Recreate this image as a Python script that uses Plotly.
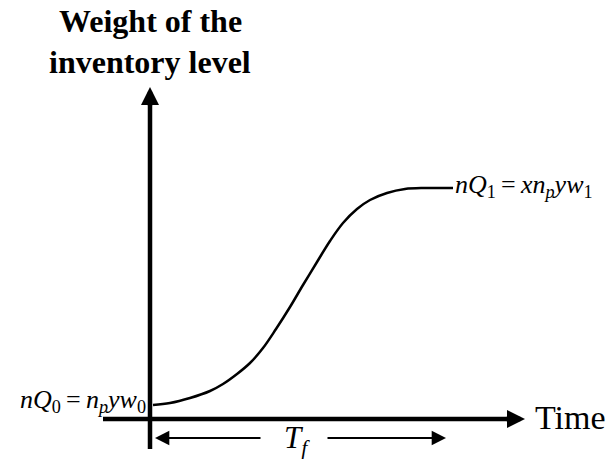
import plotly.graph_objects as go

# S-shaped growth of the inventory weight over the filling period (schematic units)
time_pts = [3, 20, 40, 60, 73, 87, 100, 113, 126, 140, 153, 167, 180, 193, 207, 220, 237, 255, 275, 303]
weight_pts = [14, 16, 21, 28, 35, 45, 56, 71, 90, 112, 134, 157, 178, 196, 210, 219, 226, 230, 231, 231]

# Axis extents and the filling-period marker
x_axis_span = [-47, 357]
x_axis_tip = 375
y_axis_span = [-30, 314]
y_axis_tip = 332
tf_span = [5, 296]
tf_gap = [112, 176]
tf_level = -19

serif = "Liberation Serif"
ink = "black"

fig = go.Figure()

# axes shafts
fig.add_trace(go.Scatter(x=x_axis_span, y=[0, 0], mode="lines",
                         line=dict(color=ink, width=4.5), hoverinfo="skip"))
fig.add_trace(go.Scatter(x=[0, 0], y=y_axis_span, mode="lines",
                         line=dict(color=ink, width=4.5), hoverinfo="skip"))

# arrowheads
fig.add_annotation(x=x_axis_tip, y=0, ax=x_axis_span[1] - 2, ay=0,
                   xref="x", yref="y", axref="x", ayref="y", text="",
                   showarrow=True, arrowhead=2, arrowsize=0.8, arrowwidth=4.5,
                   arrowcolor=ink)
fig.add_annotation(x=0, y=y_axis_tip, ax=0, ay=y_axis_span[1] - 2,
                   xref="x", yref="y", axref="x", ayref="y", text="",
                   showarrow=True, arrowhead=2, arrowsize=0.8, arrowwidth=4.5,
                   arrowcolor=ink)

# inventory curve
fig.add_trace(go.Scatter(x=time_pts, y=weight_pts, mode="lines",
                         line=dict(color=ink, width=2.5, shape="spline", smoothing=1.0),
                         hoverinfo="skip"))

# T_f double arrow, split around its label
fig.add_annotation(x=tf_span[0], y=tf_level, ax=tf_gap[0], ay=tf_level,
                   xref="x", yref="y", axref="x", ayref="y", text="",
                   showarrow=True, arrowhead=2, arrowsize=1.3, arrowwidth=2.2,
                   arrowcolor=ink)
fig.add_annotation(x=tf_span[1], y=tf_level, ax=tf_gap[1], ay=tf_level,
                   xref="x", yref="y", axref="x", ayref="y", text="",
                   showarrow=True, arrowhead=2, arrowsize=1.3, arrowwidth=2.2,
                   arrowcolor=ink)
fig.add_annotation(x=(tf_gap[0] + tf_gap[1]) / 2 + 3, y=tf_level,
                   text="<i>T</i><sub><i>f</i></sub>", showarrow=False,
                   font=dict(family=serif, size=31, color=ink), yshift=-2)

# labels
fig.add_annotation(x=0, y=398, text="<b>Weight of the</b>", showarrow=False,
                   font=dict(family=serif, size=32, color=ink))
fig.add_annotation(x=0, y=357, text="<b>inventory level</b>", showarrow=False,
                   font=dict(family=serif, size=32, color=ink))
fig.add_annotation(x=x_axis_tip + 8, y=2, text="Time", showarrow=False,
                   xanchor="left", font=dict(family=serif, size=34, color=ink))
fig.add_annotation(x=time_pts[-1], y=weight_pts[-1],
                   text="<i>nQ</i><sub>1</sub>&#8201;=&#8201;<i>xn</i><sub><i>p</i></sub><i>yw</i><sub>1</sub>",
                   showarrow=False, xanchor="left", yshift=2,
                   font=dict(family=serif, size=26, color=ink))
fig.add_annotation(x=-2, y=weight_pts[0],
                   text="<i>nQ</i><sub>0</sub>&#8201;=&#8201;<i>n</i><sub><i>p</i></sub><i>yw</i><sub>0</sub>",
                   showarrow=False, xanchor="right", yshift=4,
                   font=dict(family=serif, size=26, color=ink))

fig.update_layout(
    width=609, height=459,
    margin=dict(l=0, r=0, t=0, b=0),
    paper_bgcolor="white", plot_bgcolor="white",
    showlegend=False,
    xaxis=dict(range=[-150, 459], visible=False, fixedrange=True),
    yaxis=dict(range=[-40, 419], visible=False, fixedrange=True),
)

fig.write_html("out.html")
